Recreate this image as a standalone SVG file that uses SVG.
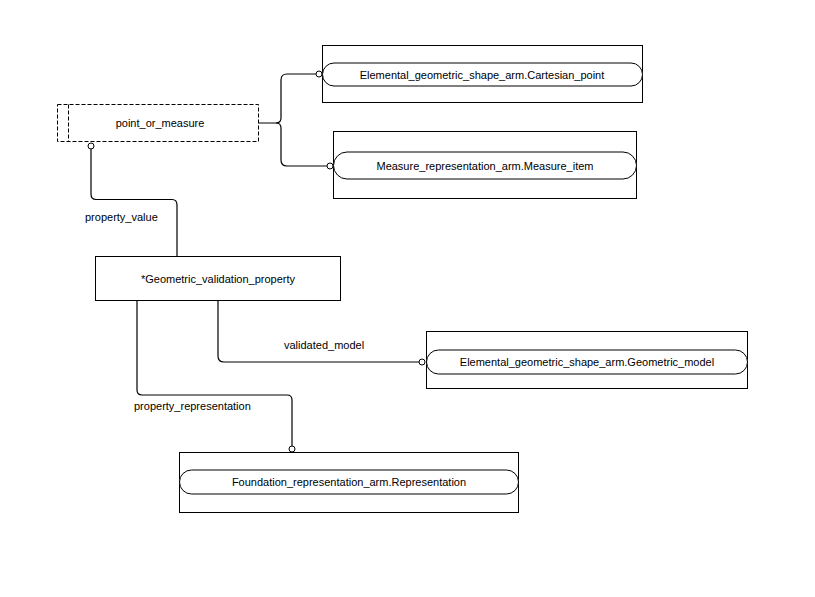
<svg xmlns="http://www.w3.org/2000/svg" width="815" height="597" viewBox="0 0 815 597">
<style>
.box{fill:#fff;stroke:#000;stroke-width:1}
.dash{fill:#fff;stroke:#000;stroke-width:1;stroke-dasharray:4,2}
.pill{fill:#fff;stroke:#000;stroke-width:1}
.t{font-family:"Liberation Sans",Arial,sans-serif;font-size:11px;fill:#000;text-anchor:middle;dominant-baseline:central}
.lbl{font-family:"Liberation Sans",Arial,sans-serif;font-size:11px;fill:#000}
.c{fill:none;stroke:#000;stroke-width:1.2}
.end{fill:#fff;stroke:#000;stroke-width:1}
</style>
<rect width="815" height="597" fill="#fff"/>
<g id="connectors">
<path class="c" d="M258.5,123 H276 Q281,123 281,118 V80 Q281,74 287,74 H316"/>
<path class="c" d="M276,123 Q281,123 281,128 V160 Q281,166 287,166 H327"/>
<circle class="end" cx="319" cy="74" r="3"/>
<circle class="end" cx="330" cy="166" r="3"/>
<path class="c" d="M91,149 V194 Q91,199.5 96,199.5 H172 Q177,199.5 177,205 V256"/>
<circle class="end" cx="91" cy="146" r="3"/>
<text class="lbl" x="85" y="221">property_value</text>
<path class="c" d="M218,300.5 V356 Q218,362 224,362 H419"/>
<circle class="end" cx="422" cy="362" r="3"/>
<text class="lbl" x="284" y="349">validated_model</text>
<path class="c" d="M137,300.5 V390 Q137,395 142,395 H287 Q292,395 292,400 V446"/>
<circle class="end" cx="292" cy="449" r="3"/>
<text class="lbl" x="134" y="410">property_representation</text>
</g>
<g id="point_or_measure">
<rect class="dash" x="57.5" y="104.5" width="201" height="37"/>
<line class="dash" x1="68.5" y1="104.5" x2="68.5" y2="141.5"/>
<text class="t" x="160" y="123">point_or_measure</text>
</g>
<g id="cartesian_point">
<rect class="box" x="322.5" y="45.5" width="320" height="57"/>
<rect class="pill" x="322.5" y="63" width="320" height="23" rx="11.5"/>
<text class="t" x="482" y="74.5">Elemental_geometric_shape_arm.Cartesian_point</text>
</g>
<g id="measure_item">
<rect class="box" x="333.5" y="131.5" width="303" height="67"/>
<rect class="pill" x="333.5" y="152" width="303" height="27" rx="13.5"/>
<text class="t" x="485" y="165.5">Measure_representation_arm.Measure_item</text>
</g>
<g id="geometric_validation_property">
<rect class="box" x="95.5" y="256.5" width="245" height="44"/>
<text class="t" x="218" y="278.5">*Geometric_validation_property</text>
</g>
<g id="geometric_model">
<rect class="box" x="426.5" y="331.5" width="321" height="57"/>
<rect class="pill" x="426.5" y="350" width="321" height="24" rx="12"/>
<text class="t" x="587" y="362">Elemental_geometric_shape_arm.Geometric_model</text>
</g>
<g id="representation">
<rect class="box" x="179.5" y="452.5" width="339" height="60"/>
<rect class="pill" x="179.5" y="470" width="339" height="24" rx="12"/>
<text class="t" x="349" y="482">Foundation_representation_arm.Representation</text>
</g>
</svg>
